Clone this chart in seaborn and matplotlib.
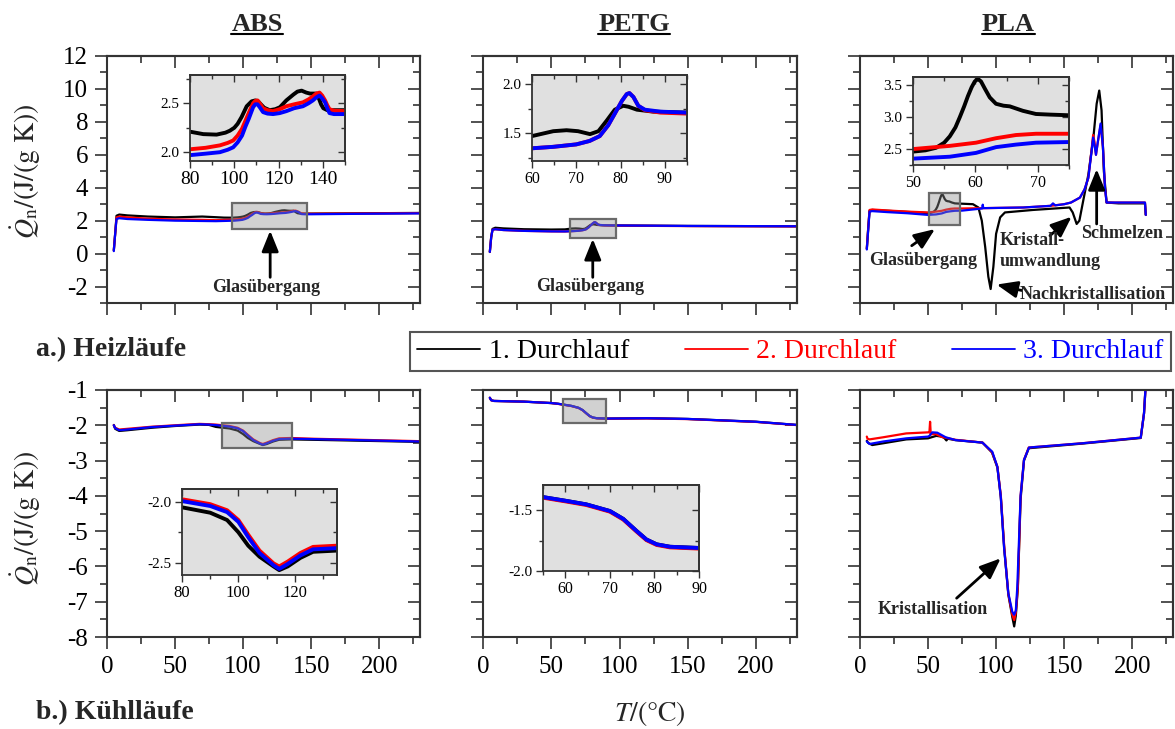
import matplotlib
matplotlib.use("Agg")
import matplotlib.pyplot as plt
import seaborn as sns
import pandas as pd
from matplotlib.ticker import MultipleLocator, FormatStrFormatter, NullFormatter
from matplotlib.patches import Rectangle
from matplotlib.lines import Line2D

# ------------------------------------------------------------------ data
materials = ["ABS", "PETG", "PLA"]
run_labels = ["1. Durchlauf", "2. Durchlauf", "3. Durchlauf"]
run_colors = ["#000000", "#ff0000", "#0000ff"]
row_titles = ["a.) Heizläufe", "b.) Kühlläufe"]
y_axis_label = r"$\dot{Q}_{\mathrm{n}}/(\mathrm{J}/(\mathrm{g\ K}))$"
x_axis_label = r"$T/(°\mathrm{C})$"

# ABS heating
abs_heat_T_run1 = [5, 6, 7, 9, 15, 30, 50, 70, 80, 86, 92, 96, 98, 100, 101.5, 103.3, 105.6, 107.8, 109.5,
                   110.8, 112, 113.5, 116, 118.5, 120.6, 123.5, 126.7, 128.5, 130.4, 132.5, 134.2, 137.2,
                   138.2, 139.2, 140.2, 142, 150, 190, 230]
abs_heat_Q_run1 = [0.2, 1.2, 2.3, 2.37, 2.32, 2.25, 2.2, 2.25, 2.21, 2.185, 2.18, 2.2, 2.22, 2.25, 2.29,
                   2.36, 2.47, 2.52, 2.53, 2.52, 2.49, 2.455, 2.43, 2.44, 2.46, 2.53, 2.59, 2.62, 2.63,
                   2.61, 2.6, 2.6, 2.55, 2.49, 2.45, 2.43, 2.43, 2.45, 2.47]
abs_heat_T_run23 = [5, 6, 7, 9, 15, 30, 50, 70, 80, 87, 93.5, 97, 99.5, 101.5, 103.5, 105, 106.5, 107.5,
                    108.5, 109.5, 110.5, 111.5, 113, 115, 117.5, 120.5, 123.5, 127, 131, 133.5, 135.5, 137,
                    138.5, 139.7, 141, 142, 143, 145, 150, 190, 230]
abs_heat_Q_run2 = [0.2, 1.2, 2.2, 2.25, 2.2, 2.12, 2.07, 2.05, 2.03, 2.045, 2.07, 2.095, 2.12, 2.17, 2.24,
                   2.32, 2.4, 2.45, 2.5, 2.525, 2.53, 2.5, 2.45, 2.43, 2.42, 2.44, 2.47, 2.49, 2.51, 2.54,
                   2.57, 2.6, 2.61, 2.58, 2.53, 2.48, 2.44, 2.425, 2.42, 2.44, 2.46]
abs_heat_Q_run3 = [0.15, 1.2, 2.1, 2.15, 2.1, 2.05, 2.0, 1.98, 1.97, 1.985, 2.0, 2.025, 2.05, 2.1, 2.17,
                   2.26, 2.34, 2.4, 2.46, 2.49, 2.49, 2.46, 2.41, 2.395, 2.39, 2.4, 2.42, 2.45, 2.47, 2.5,
                   2.53, 2.56, 2.58, 2.55, 2.51, 2.45, 2.4, 2.39, 2.39, 2.42, 2.44]

# PETG heating
petg_heat_T_run1 = [5, 6, 7, 9, 15, 30, 50, 60, 64.8, 67.8, 70.4, 73.1, 75, 76.9, 78.7, 80.6, 81.8, 83.7,
                    87.4, 95, 150, 230]
petg_heat_Q_run1 = [0.1, 1.0, 1.5, 1.57, 1.53, 1.48, 1.46, 1.47, 1.52, 1.53, 1.52, 1.49, 1.52, 1.63, 1.74,
                    1.78, 1.77, 1.74, 1.72, 1.71, 1.68, 1.66]
petg_heat_T_run23 = [5, 6, 7, 9, 15, 30, 50, 60, 64.8, 70, 73, 75.3, 77.2, 78.7, 80.3, 81.4, 82, 82.9, 84,
                     85.5, 89, 95, 150, 230]
petg_heat_Q_run2 = [0.1, 1.0, 1.45, 1.48, 1.43, 1.38, 1.35, 1.345, 1.36, 1.385, 1.42, 1.47, 1.58, 1.7, 1.83,
                    1.9, 1.91, 1.87, 1.78, 1.735, 1.71, 1.70, 1.67, 1.65]
petg_heat_Q_run3 = [0.1, 1.0, 1.45, 1.48, 1.43, 1.38, 1.35, 1.345, 1.36, 1.385, 1.42, 1.47, 1.58, 1.7, 1.83,
                    1.9, 1.91, 1.87, 1.78, 1.74, 1.72, 1.71, 1.68, 1.66]

# PLA heating
pla_heat_T_run1 = [5, 6, 7, 9, 20, 35, 50, 52, 53.7, 55, 55.9, 56.8, 57.5, 58.2, 58.8, 59.4, 59.9, 60.4,
                   60.9, 61.5, 62.3, 63.3, 64.5, 65.5, 67.6, 69.7, 72, 75, 83, 87, 89.5, 92, 94.3, 96, 98,
                   100, 103, 106.5, 127, 154, 156.3, 159.2, 161.2, 164, 167.8, 171.5, 173.9, 175.8, 177.5,
                   179.2, 181.2, 190, 209.4, 210]
pla_heat_Q_run1 = [0.3, 1.5, 2.6, 2.65, 2.6, 2.53, 2.46, 2.48, 2.52, 2.6, 2.7, 2.84, 3.0, 3.17, 3.33, 3.47,
                   3.56, 3.6, 3.56, 3.45, 3.31, 3.21, 3.18, 3.17, 3.1, 3.05, 3.04, 3.03, 3.0, 2.8, 2.0, 0.4,
                   -1.4, -2.15, -0.8, 1.2, 2.2, 2.5, 2.65, 2.8, 2.5, 1.8, 2.0, 3.2, 4.8, 7.05, 9.1, 9.9,
                   8.7, 5.0, 3.1, 3.05, 3.05, 2.35]
pla_heat_T_run2 = [5, 6, 7, 9, 20, 35, 50, 55.9, 60.1, 63.3, 66.5, 69.7, 75, 90, 120, 140, 150, 155, 161.6,
                   165, 167.8, 170.3, 171.3, 172.3, 173.4, 174.8, 176.8, 178.5, 180, 181.2, 190, 209.4, 210]
pla_heat_Q_run2 = [0.3, 1.5, 2.65, 2.68, 2.62, 2.55, 2.5, 2.55, 2.6, 2.67, 2.72, 2.74, 2.74, 2.76, 2.8, 2.9,
                   3.0, 3.1, 3.4, 3.9, 4.6, 6.4, 7.2, 6.8, 6.0, 6.8, 7.8, 6.5, 4.0, 3.1, 3.1, 3.1, 2.35]
pla_heat_T_run3 = [5, 6, 7, 9, 20, 35, 50, 55.9, 60.1, 63.3, 66.5, 69.7, 75, 89.8, 90.2, 90.6, 120, 140,
                   141.8, 143.5, 150, 155, 161.6, 165, 167.8, 170.3, 171.3, 172.3, 173.4, 174.8, 176.8,
                   178.5, 180, 181.2, 190, 209.4, 210]
pla_heat_Q_run3 = [0.25, 1.4, 2.55, 2.58, 2.52, 2.45, 2.35, 2.38, 2.44, 2.53, 2.57, 2.6, 2.61, 2.74, 2.97,
                   2.76, 2.8, 2.9, 3.05, 2.93, 3.0, 3.1, 3.4, 3.9, 4.6, 6.3, 7.05, 6.6, 6.0, 6.8, 7.9, 6.5,
                   4.0, 3.1, 3.1, 3.1, 2.35]

# ABS cooling
abs_cool_T = [5, 6, 9, 15, 33, 50, 68, 75, 80, 90, 96, 100, 103.5, 107.5, 112.5, 114.5, 117.5, 122, 126.5,
              135, 150, 230]
abs_cool_Q_run1 = [-1.99, -2.1, -2.16, -2.14, -2.07, -2.02, -1.98, -1.99, -2.046, -2.09, -2.15, -2.25, -2.36,
                   -2.45, -2.53, -2.56, -2.53, -2.46, -2.41, -2.40, -2.41, -2.47]
abs_cool_Q_run2 = [-2.0, -2.07, -2.12, -2.1, -2.04, -2.0, -1.96, -1.97, -1.98, -2.02, -2.07, -2.15, -2.27,
                   -2.4, -2.505, -2.53, -2.49, -2.42, -2.37, -2.36, -2.38, -2.45]
abs_cool_Q_run3 = [-2.0, -2.08, -2.14, -2.12, -2.05, -2.01, -1.97, -1.98, -1.995, -2.035, -2.085, -2.165,
                   -2.29, -2.42, -2.52, -2.55, -2.51, -2.44, -2.39, -2.38, -2.39, -2.46]

# PETG cooling
petg_cool_T = [5, 6, 8, 30, 50, 55, 60, 64.7, 70, 73, 76, 78.2, 80.5, 83.5, 90, 120, 150, 200, 230]
petg_cool_Q_run1 = [-1.22, -1.29, -1.31, -1.33, -1.37, -1.39, -1.42, -1.45, -1.505, -1.57, -1.67, -1.74,
                    -1.78, -1.80, -1.81, -1.80, -1.82, -1.9, -1.99]
petg_cool_Q_run2 = [-1.22, -1.29, -1.31, -1.33, -1.37, -1.395, -1.425, -1.455, -1.51, -1.575, -1.675, -1.745,
                    -1.785, -1.805, -1.815, -1.805, -1.825, -1.905, -1.995]
petg_cool_Q_run3 = [-1.22, -1.29, -1.31, -1.33, -1.37, -1.39, -1.42, -1.45, -1.505, -1.57, -1.67, -1.74,
                    -1.78, -1.80, -1.81, -1.80, -1.82, -1.9, -1.99]

# PLA cooling
pla_cool_T_run1 = [5, 6, 9, 17, 34, 50, 56, 60, 62, 63.5, 64.5, 70, 90, 97, 101, 103.5, 106, 109, 112, 113.3,
                   114.5, 116, 118, 120.5, 124, 163, 206.3, 208.7, 210.5]
pla_cool_Q_run1 = [-2.44, -2.5, -2.56, -2.51, -2.4, -2.37, -2.3, -2.32, -2.36, -2.43, -2.38, -2.42, -2.49,
                   -2.77, -3.2, -4.05, -5.5, -6.8, -7.45, -7.7, -7.4, -6.6, -4.1, -3.0, -2.65, -2.52, -2.36,
                   -1.66, -0.5]
pla_cool_T_run2 = [5, 5.5, 7, 17, 34, 50, 51, 51.5, 52, 53, 55.8, 60, 70, 90, 97, 101, 103.5, 106, 109, 112,
                   113.3, 114.5, 116, 118, 120.5, 124, 163, 206.3, 208.7, 210.5]
pla_cool_Q_run2 = [-2.32, -2.38, -2.4, -2.34, -2.23, -2.2, -2.2, -1.9, -2.26, -2.25, -2.25, -2.33, -2.41,
                   -2.49, -2.76, -3.18, -4.0, -5.45, -6.78, -7.38, -7.52, -7.3, -6.57, -4.0, -2.98, -2.63,
                   -2.51, -2.35, -1.66, -0.5]
pla_cool_T_run3 = [5, 7, 17, 34, 50, 51, 53.1, 56.8, 63, 70.3, 89.9, 97.2, 100.9, 103.4, 105.8, 109, 111.9,
                   113.2, 114.5, 115.6, 118, 120.5, 124.2, 163.4, 206.3, 208.7, 210.5]
pla_cool_Q_run3 = [-2.46, -2.53, -2.46, -2.37, -2.32, -2.3, -2.2, -2.21, -2.34, -2.42, -2.49, -2.75, -3.17,
                   -4.0, -5.44, -6.76, -7.28, -7.37, -7.25, -6.57, -4.0, -2.98, -2.63, -2.51, -2.35, -1.66,
                   -0.5]

curves = {
    ("ABS", "heat"): [(abs_heat_T_run1, abs_heat_Q_run1), (abs_heat_T_run23, abs_heat_Q_run2),
                      (abs_heat_T_run23, abs_heat_Q_run3)],
    ("PETG", "heat"): [(petg_heat_T_run1, petg_heat_Q_run1), (petg_heat_T_run23, petg_heat_Q_run2),
                       (petg_heat_T_run23, petg_heat_Q_run3)],
    ("PLA", "heat"): [(pla_heat_T_run1, pla_heat_Q_run1), (pla_heat_T_run2, pla_heat_Q_run2),
                      (pla_heat_T_run3, pla_heat_Q_run3)],
    ("ABS", "cool"): [(abs_cool_T, abs_cool_Q_run1), (abs_cool_T, abs_cool_Q_run2),
                      (abs_cool_T, abs_cool_Q_run3)],
    ("PETG", "cool"): [(petg_cool_T, petg_cool_Q_run1), (petg_cool_T, petg_cool_Q_run2),
                       (petg_cool_T, petg_cool_Q_run3)],
    ("PLA", "cool"): [(pla_cool_T_run1, pla_cool_Q_run1), (pla_cool_T_run2, pla_cool_Q_run2),
                      (pla_cool_T_run3, pla_cool_Q_run3)],
}

x_range = (0, 230)
y_range = {"heat": (-3, 12), "cool": (-8, -1)}

# zoomed windows of the insets and the marked boxes in the main plots
inset_xlim = {("ABS", "heat"): (80, 150), ("PETG", "heat"): (60, 95), ("PLA", "heat"): (50, 75),
              ("ABS", "cool"): (80, 135), ("PETG", "cool"): (55, 90)}
inset_ylim = {("ABS", "heat"): (1.91, 2.79), ("PETG", "heat"): (1.215, 2.095), ("PLA", "heat"): (2.25, 3.63),
              ("ABS", "cool"): (-2.6, -1.896), ("PETG", "cool"): (-2.0, -1.29)}
inset_xstep = {("ABS", "heat"): 20, ("PETG", "heat"): 10, ("PLA", "heat"): 10,
               ("ABS", "cool"): 20, ("PETG", "cool"): 10}
zoom_box = {("ABS", "heat"): (92, 147, 1.5, 3.1), ("PETG", "heat"): (64, 97.4, 0.95, 2.1),
            ("PLA", "heat"): (50.7, 73.5, 1.76, 3.7), ("ABS", "cool"): (84.5, 136, -2.64, -1.93),
            ("PETG", "cool"): (58.6, 90, -1.94, -1.25)}

# annotations: (panel, text, text position, arrow tail, arrow head, horizontal alignment)
annotations = [
    (("ABS", "heat"), "Glasübergang", (116.7, -2.04), (119.9, -1.44), (119.9, 1.39), "center"),
    (("PETG", "heat"), "Glasübergang", (78.2, -2.0), (80.4, -1.44), (80.4, 0.89), "center"),
    (("PLA", "heat"), "Glasübergang", (46.3, -0.42), (38, 0.48), (55.1, 1.49), "center"),
    (("PLA", "heat"), "Kristall-", (102.9, 0.8), (139.6, 1.09), (155.5, 2.24), "left"),
    (("PLA", "heat"), "umwandlung", (102.9, -0.45), None, None, "left"),
    (("PLA", "heat"), "Schmelzen", (192.3, 1.2), (173.9, 1.8), (173.9, 5.13), "center"),
    (("PLA", "heat"), "Nachkristallisation", (171.4, -2.5), (118.8, -2.24), (100.4, -1.88), "center"),
    (("PLA", "cool"), "Kristallisation", (53.3, -7.23), (71, -6.9), (103.4, -5.77), "center"),
]

# ------------------------------------------------------------------ style
sns.set_style("ticks")
plt.rcParams["font.family"] = ["Liberation Serif", "DejaVu Serif"]
plt.rcParams["mathtext.fontset"] = "stix"
plt.rcParams["axes.unicode_minus"] = False

EDGE = "#333333"
W, H = 1175, 729
fig = plt.figure(figsize=(W / 100, H / 100), dpi=100)


def px_axes(x0, y0, x1, y1):
    return fig.add_axes([x0 / W, 1 - y1 / H, (x1 - x0) / W, (y1 - y0) / H])


def style_ticks(ax, xmaj, xmin, ymaj, ymin, maj_len, min_len, tw, xsize, ysize, pad,
                xlabels=True, ylabels=True, spine_lw=1.5):
    ax.xaxis.set_major_locator(MultipleLocator(xmaj))
    ax.xaxis.set_minor_locator(MultipleLocator(xmin))
    ax.yaxis.set_major_locator(MultipleLocator(ymaj))
    ax.yaxis.set_minor_locator(MultipleLocator(ymin))
    ax.tick_params(which="both", direction="out", width=tw, color=EDGE, labelcolor="k",
                   top=False, right=False, labelbottom=xlabels, labelleft=ylabels, pad=pad)
    ax.tick_params(axis="x", labelsize=xsize)
    ax.tick_params(axis="y", labelsize=ysize)
    ax.tick_params(which="major", length=maj_len)
    ax.tick_params(which="minor", length=min_len)
    for s in ax.spines.values():
        s.set_visible(True)
        s.set_color(EDGE)
        s.set_linewidth(spine_lw)
    secx = ax.secondary_xaxis("top")
    secx.xaxis.set_major_locator(MultipleLocator(xmaj))
    secx.xaxis.set_minor_locator(MultipleLocator(xmin))
    secx.xaxis.set_major_formatter(NullFormatter())
    secx.tick_params(which="both", direction="in", width=tw, color=EDGE, labeltop=False)
    secx.tick_params(which="major", length=maj_len)
    secx.tick_params(which="minor", length=min_len)
    secy = ax.secondary_yaxis("right")
    secy.yaxis.set_major_locator(MultipleLocator(ymaj))
    secy.yaxis.set_minor_locator(MultipleLocator(ymin))
    secy.yaxis.set_major_formatter(NullFormatter())
    secy.tick_params(which="both", direction="in", width=tw, color=EDGE, labelright=False)
    secy.tick_params(which="major", length=maj_len)
    secy.tick_params(which="minor", length=min_len)
    for sec in (secx, secy):
        for s in sec.spines.values():
            s.set_color(EDGE)
            s.set_linewidth(spine_lw)


def draw_runs(ax, series, lw):
    for (T, Q), col in zip(series, run_colors):
        df = pd.DataFrame({"T": T, "Q": Q})
        sns.lineplot(data=df, x="T", y="Q", ax=ax, color=col, lw=lw, sort=False,
                     estimator=None, legend=False)
    ax.set_xlabel("")
    ax.set_ylabel("")


main_cols_px = [(107, 420), (483, 797), (860, 1173)]
main_rows_px = {"heat": (56, 303), "cool": (390, 637)}
inset_px = {("ABS", "heat"): (190, 75, 345, 161), ("PETG", "heat"): (532, 75, 687, 161),
            ("PLA", "heat"): (913, 77, 1069, 165), ("ABS", "cool"): (182, 489, 337, 575),
            ("PETG", "cool"): (543, 485, 699, 571)}
inset_xsize = {("ABS", "heat"): 14, ("PETG", "heat"): 11.5, ("PLA", "heat"): 11.5,
               ("ABS", "cool"): 12, ("PETG", "cool"): 11.5}

main_axes = {}
for mode in ("heat", "cool"):
    y0, y1 = main_rows_px[mode]
    for mat, (x0, x1) in zip(materials, main_cols_px):
        ax = px_axes(x0, y0, x1, y1)
        key = (mat, mode)
        draw_runs(ax, curves[key], 1.6)
        ax.set_xlim(*x_range)
        ax.set_ylim(*y_range[mode])
        ymaj, ymin = (2, 1) if mode == "heat" else (1, 0.5)
        style_ticks(ax, 50, 25, ymaj, ymin, 8.5, 4.8, 1.2, 18, 18, 5,
                    xlabels=(mode == "cool"), ylabels=(mat == "ABS"))
        if key in zoom_box:
            bx0, bx1, by0, by1 = zoom_box[key]
            ax.add_patch(Rectangle((bx0, by0), bx1 - bx0, by1 - by0, transform=ax.transData,
                                   facecolor=(0.55, 0.55, 0.55, 0.4), edgecolor="#6a6a6a",
                                   lw=1.6, zorder=5))
        main_axes[key] = ax

# annotations
for key, txt, tpos, tail, head, ha in annotations:
    ax = main_axes[key]
    if tail is not None:
        ax.annotate("", xy=head, xytext=tail, xycoords="data", textcoords="data",
                    arrowprops=dict(arrowstyle="-|>,head_length=0.42,head_width=0.17",
                                    mutation_scale=30, lw=2.0, color="k",
                                    shrinkA=0, shrinkB=0), zorder=6)
    ax.text(tpos[0], tpos[1], txt, ha=ha, va="center", fontsize=13, fontweight="bold", zorder=6)

# insets
for key, (x0, y0, x1, y1) in inset_px.items():
    iax = px_axes(x0, y0, x1, y1)
    iax.set_facecolor("#e0e0e0")
    draw_runs(iax, curves[key], 2.8)
    iax.set_xlim(*inset_xlim[key])
    iax.set_ylim(*inset_ylim[key])
    xs = inset_xstep[key]
    style_ticks(iax, xs, xs / 2, 0.5, 0.25, 5, 3, 1.0, inset_xsize[key], 11, 2.5, spine_lw=1.3)
    iax.yaxis.set_major_formatter(FormatStrFormatter("%.1f"))

# axis labels and headings
fig.text(26 / W, 1 - 171 / H, y_axis_label, rotation=90, ha="center", va="center", fontsize=20)
fig.text(26 / W, 1 - 518 / H, y_axis_label, rotation=90, ha="center", va="center", fontsize=20)
fig.text(650 / W, 1 - 714 / H, x_axis_label, ha="center", va="center", fontsize=20)
fig.text(36 / W, 1 - 356 / H, row_titles[0], ha="left", va="baseline", fontsize=20, fontweight="bold")
fig.text(36 / W, 1 - 719 / H, row_titles[1], ha="left", va="baseline", fontsize=20, fontweight="bold")

title_x_px = [257, 634, 1008]
title_objs = []
for mat, xc in zip(materials, title_x_px):
    title_objs.append(fig.text(xc / W, 1 - 30.7 / H, mat, ha="center", va="baseline",
                               fontsize=19, fontweight="bold"))

# legend
handles = [Line2D([], [], color=c, lw=1.3) for c in run_colors]
leg = fig.legend(handles, run_labels, loc="center", bbox_to_anchor=(790.5 / W, 1 - 351.5 / H),
                 ncol=3, frameon=True, fancybox=False, fontsize=20, handlelength=2.27,
                 handletextpad=0.3, columnspacing=2.0, borderpad=0.25, framealpha=1)
leg.get_frame().set_edgecolor("#555555")
leg.get_frame().set_linewidth(1.5)
for t, c in zip(leg.get_texts(), run_colors):
    t.set_color(c)

# underline the material headings
fig.canvas.draw()
renderer = fig.canvas.get_renderer()
for t in title_objs:
    bb = t.get_window_extent(renderer)
    yl = (H - 33.5) / H
    fig.add_artist(Line2D([bb.x0 / W, bb.x1 / W], [yl, yl], transform=fig.transFigure,
                          color="k", lw=1.5))

fig.savefig("out.png", dpi=100)
